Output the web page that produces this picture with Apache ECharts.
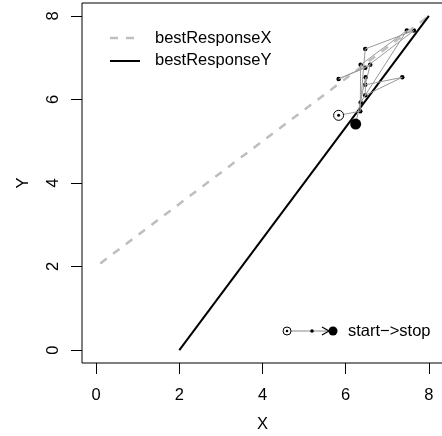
<!DOCTYPE html>
<html>
<head>
<meta charset="utf-8">
<script src="https://cdn.jsdelivr.net/npm/echarts@6/dist/echarts.min.js"></script>
<style>
  html, body { margin: 0; padding: 0; background: #fff; }
</style>
</head>
<body>
<div id="chart" style="width: 442px; height: 436px"></div>
<script>
// axis ticks
const ticks = [0, 2, 4, 6, 8];

// best response lines
const brX_x = [0.1, 8];
const brX_y = [2.075, 8];
const brY_x = [2, 8];
const brY_y = [0, 8];

// path of the dynamics, start -> stop
const pathX = [5.83, 6.35, 6.36, 7.47, 6.36, 6.47, 7.64, 6.47, 5.83, 6.59, 6.47, 7.36, 6.47, 6.48, 6.24];
const pathY = [5.62, 5.72, 6.83, 7.65, 5.93, 7.21, 7.65, 6.76, 6.49, 6.83, 6.35, 6.53, 6.10, 6.53, 5.41];

const font = "'Liberation Sans', Arial, sans-serif";
const pts = (xs, ys) => xs.map((x, i) => [x, ys[i]]);
const last = pathX.length - 1;

const chart = echarts.init(document.getElementById("chart"));

chart.setOption({
  animation: false,
  textStyle: { fontFamily: font, color: "#000" },
  grid: {
    left: 82, right: -1, top: 3, bottom: 73,
    outerBoundsMode: "none",
    show: true, borderColor: "#000", borderWidth: 1,
  },
  xAxis: {
    type: "value",
    min: -0.34, max: 8.34,
    name: "X",
    nameLocation: "middle",
    nameGap: 53,
    nameTextStyle: { fontSize: 16.5, color: "#000", fontFamily: font },
    axisLine: { show: false, onZero: false },
    splitLine: { show: false },
    axisTick: { show: true, length: 11, customValues: ticks, lineStyle: { color: "#000" } },
    axisLabel: { customValues: ticks, margin: 24, fontSize: 16.5, color: "#000", fontFamily: font },
  },
  yAxis: {
    type: "value",
    min: -0.31, max: 8.31,
    name: "Y",
    nameLocation: "middle",
    nameGap: 50,
    nameRotate: 90,
    nameTextStyle: { fontSize: 16.5, color: "#000", fontFamily: font },
    axisLine: { show: false, onZero: false },
    splitLine: { show: false },
    axisTick: { show: true, length: 11, customValues: ticks, lineStyle: { color: "#000" } },
    axisLabel: { customValues: ticks, rotate: 90, margin: 20, fontSize: 16.5, color: "#000", fontFamily: font },
  },
  series: [
    {
      name: "bestResponseX",
      type: "line",
      data: pts(brX_x, brX_y),
      showSymbol: false,
      lineStyle: { color: "#bebebe", width: 2.5, type: [8, 8] },
    },
    {
      name: "bestResponseY",
      type: "line",
      data: pts(brY_x, brY_y),
      showSymbol: false,
      lineStyle: { color: "#000", width: 2 },
    },
    {
      name: "path",
      type: "line",
      data: pts(pathX, pathY),
      showSymbol: false,
      lineStyle: { color: "#999999", width: 1 },
    },
    {
      name: "dots",
      type: "scatter",
      data: pts(pathX, pathY).slice(1, last),
      symbolSize: 4.5,
      itemStyle: { color: "#000", opacity: 1 },
    },
    {
      name: "start",
      type: "scatter",
      data: [[pathX[0], pathY[0]]],
      symbol: "circle",
      symbolSize: 10,
      itemStyle: { color: "#fff", borderColor: "#000", borderWidth: 1, opacity: 1 },
      z: 5,
    },
    {
      name: "startDot",
      type: "scatter",
      data: [[pathX[0], pathY[0]]],
      symbolSize: 3,
      itemStyle: { color: "#000", opacity: 1 },
      z: 6,
    },
    {
      name: "stop",
      type: "scatter",
      data: [[pathX[last], pathY[last]]],
      symbolSize: 11,
      itemStyle: { color: "#000", opacity: 1 },
      z: 6,
    },
  ],
  graphic: [
    // top-left legend
    { type: "line", shape: { x1: 110, y1: 38, x2: 140, y2: 38 }, style: { stroke: "#bebebe", lineWidth: 2.5, lineDash: [8, 8] } },
    { type: "text", x: 155, y: 38, style: { text: "bestResponseX", font: "16.5px " + font, fill: "#000", textVerticalAlign: "middle" } },
    { type: "line", shape: { x1: 110, y1: 61, x2: 140, y2: 61 }, style: { stroke: "#000", lineWidth: 2 } },
    { type: "text", x: 155, y: 60, style: { text: "bestResponseY", font: "16.5px " + font, fill: "#000", textVerticalAlign: "middle" } },
    // bottom-right legend
    { type: "line", shape: { x1: 287, y1: 331, x2: 333, y2: 331 }, style: { stroke: "#888", lineWidth: 1 } },
    { type: "polyline", shape: { points: [[322, 327], [329, 331], [322, 335]] }, style: { stroke: "#000", lineWidth: 1.2, fill: null } },
    { type: "circle", shape: { cx: 287, cy: 331, r: 4 }, style: { fill: "#fff", stroke: "#000", lineWidth: 1 } },
    { type: "circle", shape: { cx: 287, cy: 331, r: 1.3 }, style: { fill: "#000" } },
    { type: "circle", shape: { cx: 312, cy: 331, r: 1.8 }, style: { fill: "#000" } },
    { type: "circle", shape: { cx: 333, cy: 331, r: 4.5 }, style: { fill: "#000" } },
    { type: "text", x: 348, y: 331, style: { text: "start\u2212>stop", font: "16.5px " + font, fill: "#000", textVerticalAlign: "middle" } },
  ],
});
</script>
</body>
</html>
